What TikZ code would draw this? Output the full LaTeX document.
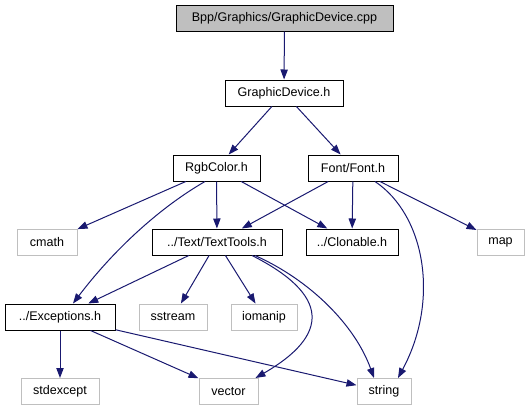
\documentclass[tikz,border=0pt]{standalone}
\usepackage{fontspec}
\setmainfont{Liberation Sans}
\usetikzlibrary{arrows.meta,calc}
\definecolor{edgec}{HTML}{191970}
\definecolor{grayc}{HTML}{BFBFBF}
\begin{document}
\begin{tikzpicture}[x=0.75pt,y=-0.75pt,
  box/.style={draw=black, line width=0.75pt, fill=white, inner sep=0pt,
    font=\fontsize{9.4}{11}\selectfont, minimum height=19.5pt},
  sys/.style={box, draw=grayc},
  top/.style={box, fill=grayc},
  e/.style={draw=edgec, line width=0.75pt, -{Triangle[length=7.5pt,width=5.5pt]}}]
\useasboundingbox (0,0) rectangle (529,411);
\node[top, minimum width=162.75pt] (cpp) at (284.5,18) {Bpp/Graphics/GraphicDevice.cpp};
\node[box, minimum width=88.5pt] (gd) at (284,93) {GraphicDevice.h};
\node[box, minimum width=65.25pt] (rgb) at (216.5,168) {RgbColor.h};
\node[box, minimum width=67.5pt] (font) at (353,168) {Font/Font.h};
\node[box, minimum width=97.5pt] (tt) at (217,242) {../Text/TextTools.h};
\node[box, minimum width=69pt] (clon) at (352,242) {../Clonable.h};
\node[sys, minimum width=45pt] (cmath) at (47,242.5) {cmath};
\node[sys, minimum width=35.25pt] (map) at (500.5,242) {map};
\node[box, minimum width=82.5pt] (exc) at (60,317) {../Exceptions.h};
\node[sys, minimum width=51pt] (sstream) at (173,317) {sstream};
\node[sys, minimum width=49.5pt] (iomanip) at (264,317) {iomanip};
\node[sys, minimum width=58.5pt] (stdexcept) at (60,391.5) {stdexcept};
\node[sys, minimum width=44.25pt] (vector) at (228.5,391.5) {vector};
\node[sys, minimum width=40.5pt] (string) at (384,391.5) {string};

\draw[e] (cpp) -- (gd);
\draw[e] (gd) -- (rgb);
\draw[e] (gd) -- (font);
\draw[e] (rgb) -- (cmath);
\draw[e] ($(rgb.south)+(-11.5,0)$) .. controls (154,211) and (109,256) .. ($(exc.north)+(13,0)$);
\draw[e] (rgb) -- (tt);
\draw[e] (rgb) -- (clon);
\draw[e] (font) -- (tt);
\draw[e] (font) -- (clon);
\draw[e] (font) -- (map);
\draw[e] ($(font.south)+(22,0)$) .. controls (425,215) and (440,300) .. ($(string.north)+(14,0)$);
\draw[e] (tt) -- (exc);
\draw[e] (tt) -- (sstream);
\draw[e] (tt) -- (iomanip);
\draw[e] ($(tt.south)+(35,0)$) .. controls (330,295) and (330,335) .. ($(vector.north)+(27,0)$);
\draw[e] ($(tt.south)+(38,0)$) .. controls (310,280) and (355,325) .. ($(string.north)+(-10,0)$);
\draw[e] (exc) -- (stdexcept);
\draw[e] (exc) -- (vector);
\draw[e] (exc) -- (string);
\end{tikzpicture}
\end{document}
